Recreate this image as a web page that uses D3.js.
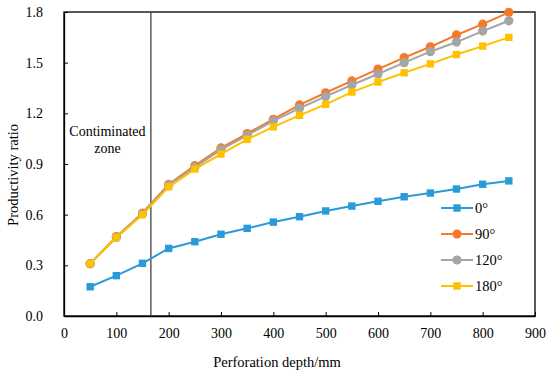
<!DOCTYPE html>
<html>
<head>
<meta charset="utf-8">
<script src="https://cdn.jsdelivr.net/npm/d3@7"></script>
<style>
  body { margin: 0; background: #fff; }
  svg text { font-family: "Liberation Serif", "Times New Roman", serif !important; fill: #000; }
</style>
</head>
<body>
<div id="chart"></div>
<script>
// perforation depth (mm)
const depths = [50, 100, 150, 200, 250, 300, 350, 400, 450, 500, 550, 600, 650, 700, 750, 800, 850];
const seriesNames = ["0°", "90°", "120°", "180°"];
const ratio0 = [0.173, 0.239, 0.312, 0.40, 0.44, 0.484, 0.519, 0.556, 0.588, 0.622, 0.651, 0.679, 0.706, 0.728, 0.752, 0.78, 0.80];
const ratio90 = [0.31, 0.47, 0.61, 0.78, 0.89, 0.995, 1.08, 1.165, 1.25, 1.322, 1.392, 1.462, 1.53, 1.594, 1.664, 1.728, 1.798];
const ratio120 = [0.31, 0.465, 0.605, 0.775, 0.88, 0.985, 1.07, 1.155, 1.23, 1.30, 1.368, 1.433, 1.50, 1.565, 1.622, 1.687, 1.748];
const ratio180 = [0.31, 0.465, 0.60, 0.765, 0.87, 0.959, 1.046, 1.12, 1.188, 1.253, 1.326, 1.385, 1.44, 1.493, 1.548, 1.598, 1.65];
const xTicks = [0, 100, 200, 300, 400, 500, 600, 700, 800, 900];
const yTicks = [0, 0.3, 0.6, 0.9, 1.2, 1.5, 1.8];
const zoneDepth = 166;

const colours = ["#2a9bd8", "#f47a2a", "#a5a5a5", "#ffc000"];
const shapes = ["square", "circle", "circle", "square"];
const allSeries = [ratio0, ratio90, ratio120, ratio180];

const width = 550, height = 374;
const margin = { top: 12, right: 15, bottom: 58, left: 64 };

const svg = d3.select("#chart").append("svg")
  .attr("width", width)
  .attr("height", height);

const x = d3.scaleLinear().domain([0, 900]).range([margin.left, width - margin.right]);
const y = d3.scaleLinear().domain([0, 1.8]).range([height - margin.bottom, margin.top]);

// frame
svg.append("rect")
  .attr("x", x(0)).attr("y", y(1.8))
  .attr("width", x(900) - x(0)).attr("height", y(0) - y(1.8))
  .attr("fill", "none").attr("stroke", "#000").attr("stroke-width", 1.3);

// axes, ticks inward
const xAxis = svg.append("g")
  .attr("transform", `translate(0,${y(0)})`)
  .call(d3.axisBottom(x).tickValues(xTicks).tickSizeInner(-4).tickSizeOuter(0).tickPadding(9));
const yAxis = svg.append("g")
  .attr("transform", `translate(${x(0)},0)`)
  .call(d3.axisLeft(y).tickValues(yTicks).tickFormat(d3.format(".1f")).tickSizeInner(-4).tickSizeOuter(0).tickPadding(21));

[xAxis, yAxis].forEach(a => {
  a.attr("font-family", null).attr("font-size", null);
  a.select(".domain").attr("stroke", "#000").attr("stroke-width", 1.3);
  a.selectAll(".tick line").attr("stroke", "#000");
  a.selectAll(".tick text").style("font-size", "14px").attr("fill", "#000");
});
xAxis.selectAll(".tick text").attr("dy", "0.9em");

// contaminated zone boundary
svg.append("line")
  .attr("x1", x(zoneDepth)).attr("x2", x(zoneDepth))
  .attr("y1", y(1.8)).attr("y2", y(0))
  .attr("stroke", "#404040").attr("stroke-width", 1.3);

svg.append("text")
  .attr("x", (x(0) + x(zoneDepth)) / 2).attr("y", 136)
  .attr("text-anchor", "middle").style("font-size", "14px")
  .text("Contiminated");
svg.append("text")
  .attr("x", (x(0) + x(zoneDepth)) / 2).attr("y", 153)
  .attr("text-anchor", "middle").style("font-size", "14px")
  .text("zone");

// series
const line = d3.line().x((d, i) => x(depths[i])).y(d => y(d));

function drawMarker(g, shape, colour, cx, cy) {
  if (shape === "circle") {
    g.append("circle").attr("cx", cx).attr("cy", cy).attr("r", 4.6).attr("fill", colour);
  } else {
    g.append("rect").attr("x", cx - 3.7).attr("y", cy - 3.7).attr("width", 7.4).attr("height", 7.4).attr("fill", colour);
  }
}

allSeries.forEach((vals, s) => {
  const g = svg.append("g").attr("class", "series");
  g.append("path")
    .attr("d", line(vals))
    .attr("fill", "none")
    .attr("stroke", colours[s])
    .attr("stroke-width", 2);
  vals.forEach((v, i) => drawMarker(g, shapes[s], colours[s], x(depths[i]), y(v)));
});

// legend
const legend = svg.append("g").attr("class", "legend");
seriesNames.forEach((name, i) => {
  const ly = 208 + i * 26;
  legend.append("line")
    .attr("x1", 441).attr("x2", 473).attr("y1", ly).attr("y2", ly)
    .attr("stroke", colours[i]).attr("stroke-width", 2);
  drawMarker(legend, shapes[i], colours[i], 457, ly);
  legend.append("text")
    .attr("x", 475).attr("y", ly + 5)
    .style("font-size", "14.5px")
    .text(name);
});

// axis titles
svg.append("text")
  .attr("x", 277).attr("y", 367)
  .attr("text-anchor", "middle").style("font-size", "14.5px")
  .text("Perforation depth/mm");
svg.append("text")
  .attr("transform", `translate(18,175) rotate(-90)`)
  .attr("text-anchor", "middle").style("font-size", "14.5px")
  .text("Productivity ratio");
</script>
</body>
</html>
